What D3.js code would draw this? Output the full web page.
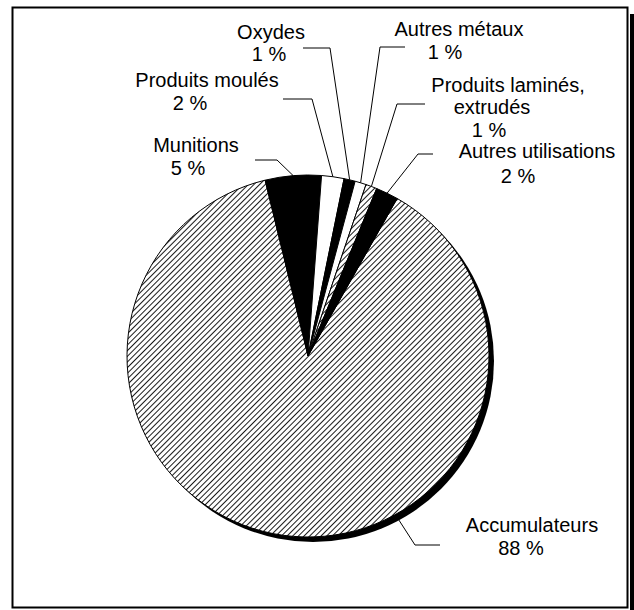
<!DOCTYPE html>
<html>
<head>
<meta charset="utf-8">
<script src="https://cdn.jsdelivr.net/npm/d3@7"></script>
<style>
  body { margin: 0; background: #fff; }
  text { font-family: "Liberation Sans", Arial, sans-serif; font-size: 20px; fill: #000; }
</style>
</head>
<body>
<div id="chart"></div>
<script>
// data (clockwise, starting with the big slice)
const categories = ["Accumulateurs", "Munitions", "Produits moulés", "Oxydes",
                    "Autres métaux", "Produits laminés, extrudés", "Autres utilisations"];
const values = [88, 5, 2, 1, 1, 1, 2];
const labelLines = [
    ["Accumulateurs", "88 %"],
    ["Munitions", "5 %"],
    ["Produits moulés", "2 %"],
    ["Oxydes", "1 %"],
    ["Autres métaux", "1 %"],
    ["Produits laminés,", "extrudés", "1 %"],
    ["Autres utilisations", "2 %"]
];

// styling / layout
const fills = ["url(#hatch)", "#000", "#fff", "#000", "#fff", "url(#hatch)", "#000"];
// centre x and baseline of each text line
const labelLayout = [
    { xs: [532, 521], ys: [532, 554.5] },
    { xs: [196, 188], ys: [152, 174.5] },
    { xs: [207, 190], ys: [87, 109.5] },
    { xs: [271, 269], ys: [38.5, 61] },
    { xs: [459, 445], ys: [36, 58.5] },
    { xs: [508, 492, 489], ys: [91.5, 114, 136.5] },
    { xs: [537, 518], ys: [158, 183] }
];
// leader lines: elbow point, end x of the short horizontal, where on the slice edge it starts
const leaders = [
    { ex: 415, ey: 545, hx: 440, at: 0.384 },
    { ex: 277, ey: 160, hx: 255, at: 0.5 },
    { ex: 312, ey: 99, hx: 283, at: 0.5 },
    { ex: 330, ey: 48, hx: 303, at: 0.5 },
    { ex: 380, ey: 47, hx: 405, at: 0.5 },
    { ex: 397, ey: 104, hx: 425, at: 0.5 },
    { ex: 418, ey: 154, hx: 433, at: 0.5 }
];

const width = 634;
const height = 610;
const cx = 308, cy = 356, radius = 181;
const startAngle = 29.5 * Math.PI / 180;

const svg = d3.select("#chart")
    .append("svg")
    .attr("width", width)
    .attr("height", height);

// hatch pattern for the striped slices
const defs = svg.append("defs");
const pat = defs.append("pattern")
    .attr("id", "hatch")
    .attr("patternUnits", "userSpaceOnUse")
    .attr("width", 4)
    .attr("height", 4)
    .attr("patternTransform", "rotate(45)");
pat.append("rect").attr("width", 4).attr("height", 4).attr("fill", "#fff");
pat.append("line")
    .attr("x1", 0).attr("y1", 0)
    .attr("x2", 0).attr("y2", 4)
    .attr("stroke", "#1a1a1a")
    .attr("stroke-width", 2);

// frame with its shadow on the right
svg.append("rect")
    .attr("x", 630).attr("y", 14)
    .attr("width", 5).attr("height", height)
    .attr("fill", "#000");
svg.append("rect")
    .attr("x", 12.5).attr("y", 7.5)
    .attr("width", 615).attr("height", 600)
    .attr("fill", "#fff")
    .attr("stroke", "#000")
    .attr("stroke-width", 2);

const g = svg.append("g").attr("transform", `translate(${cx},${cy})`);

// pie shadow
g.append("circle")
    .attr("cx", 5).attr("cy", 5)
    .attr("r", radius)
    .attr("fill", "#000");

const pie = d3.pie()
    .sort(null)
    .value(d => d)
    .startAngle(startAngle)
    .endAngle(startAngle + 2 * Math.PI);

const arcs = pie(values);
const arc = d3.arc().innerRadius(0).outerRadius(radius);

g.selectAll("path.slice")
    .data(arcs)
    .join("path")
    .attr("class", "slice")
    .attr("d", arc)
    .attr("fill", (d, i) => fills[i])
    .attr("stroke", "#000")
    .attr("stroke-width", 1)
    .attr("stroke-linejoin", "round");

// leader lines
arcs.forEach((d, i) => {
    const L = leaders[i];
    const a = d.startAngle + (d.endAngle - d.startAngle) * L.at;
    const sx = cx + Math.sin(a) * radius;
    const sy = cy - Math.cos(a) * radius;
    svg.append("polyline")
        .attr("points", `${sx},${sy} ${L.ex},${L.ey} ${L.hx},${L.ey}`)
        .attr("fill", "none")
        .attr("stroke", "#000")
        .attr("stroke-width", 1);
});

// labels
labelLines.forEach((lines, i) => {
    const lay = labelLayout[i];
    const t = svg.append("text").attr("text-anchor", "middle");
    lines.forEach((s, j) => {
        t.append("tspan")
            .attr("x", lay.xs[j])
            .attr("y", lay.ys[j])
            .text(s);
    });
});
</script>
</body>
</html>
